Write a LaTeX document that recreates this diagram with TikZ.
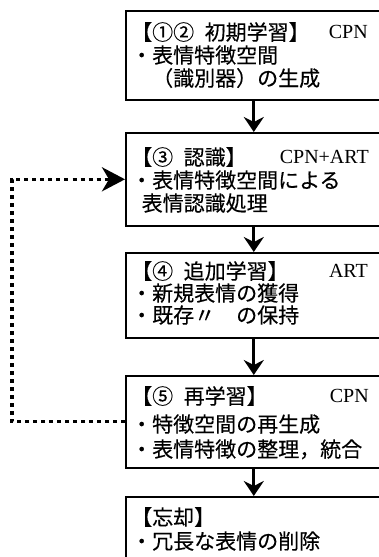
\documentclass[tikz,border=0pt]{standalone}
\usepackage{fontspec}
\setmainfont{Liberation Serif}
\newfontfamily\jp[FakeBold=0.3]{Noto Sans CJK JP}
\usetikzlibrary{arrows.meta}
\begin{document}
\begin{tikzpicture}[x=1pt,y=-1pt,
  box/.style={draw, line width=1.6pt, anchor=north west, inner sep=0pt, minimum width=256pt},
  jtxt/.style={anchor=base west, inner sep=0pt, font=\jp\fontsize{21}{22}\selectfont},
  ltxt/.style={anchor=base east, inner sep=0pt, font=\fontsize{20}{22}\selectfont},
  flow/.style={line width=3pt, -{Stealth[length=15pt,width=20pt,inset=5pt]}},
  back/.style={line width=3.3pt, dash pattern=on 4pt off 4pt, -{Stealth[length=23pt,width=24pt,inset=7pt]}}
]
\useasboundingbox (0,0) rectangle (379,557);
\clip (0,0) rectangle (379,557);
% boxes
\node[box, minimum height=89pt] (b1) at (125,10) {};
\node[box, minimum height=93pt] (b2) at (125,132) {};
\node[box, minimum height=85pt] (b3) at (125,252) {};
\node[box, minimum height=92pt] (b4) at (125,375) {};
\node[box, minimum height=90pt] (b5) at (125,496) {};
% box 1
\node[jtxt] (t11) at (131,40) {【①②\hspace{0.5em}初期学習】};
\node[ltxt] (l1) at (368,38) {CPN};
\node[jtxt] (t12) at (131,63) {・表情特徴空間};
\node[jtxt] (t13) at (131,86) {　（識別器）の生成};
% box 2
\node[jtxt] (t21) at (131,165) {【③\hspace{0.5em}認識】};
\node[ltxt] (l2) at (369,163) {CPN+ART};
\node[jtxt] (t22) at (131,188) {・表情特徴空間による};
\node[jtxt] (t23) at (131,211) {\hspace{0.5em}表情認識処理};
% box 3
\node[jtxt] (t31) at (131,279) {【④\hspace{0.5em}追加学習】};
\node[ltxt] (l3) at (368,277) {ART};
\node[jtxt] (t32) at (131,301) {・新規表情の獲得};
\node[jtxt] (t33) at (131,323) {・既存〃　の保持};
% box 4
\node[jtxt] (t41) at (131,404) {【⑤\hspace{0.5em}再学習】};
\node[ltxt] (l4) at (369,402) {CPN};
\node[jtxt] (t42) at (131,432) {・特徴空間の再生成};
\node[jtxt] (t43) at (131,457) {・表情特徴の整理，統合};
% box 5
\node[jtxt] (t51) at (131,525) {【忘却】};
\node[jtxt] (t52) at (131,549) {・冗長な表情の削除};
% connectors
\draw[flow] (b1.south) -- (b2.north);
\draw[flow] (b2.south) -- (b3.north);
\draw[flow] (b3.south) -- (b4.north);
\draw[flow] (b4.south) -- (b5.north);
\coordinate (lp) at (12,300);
\draw[back] (b4.west) -| (lp) |- (b2.west);
\end{tikzpicture}
\end{document}
